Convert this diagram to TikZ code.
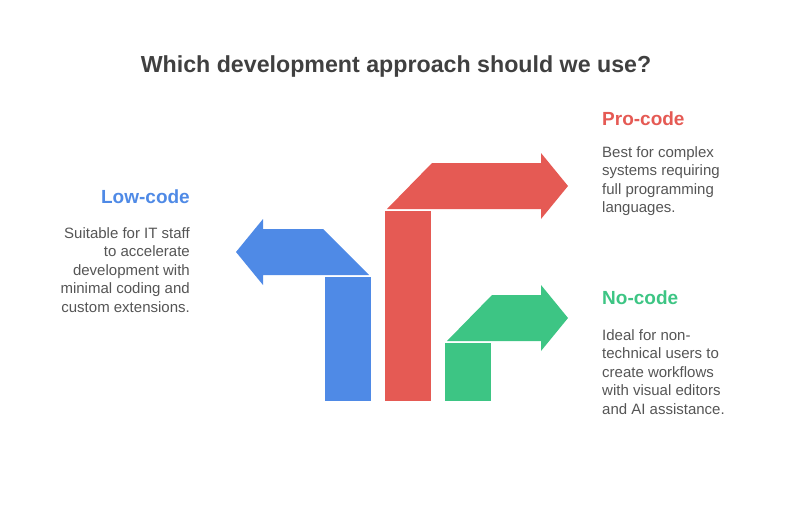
\documentclass[tikz,border=0pt]{standalone}
\usepackage{fontspec}
\setmainfont{Liberation Sans}
\usetikzlibrary{positioning}
\definecolor{lowblue}{HTML}{4F8AE6}
\definecolor{prored}{HTML}{E55A54}
\definecolor{nogreen}{HTML}{3DC584}
\definecolor{titlegray}{HTML}{404040}
\definecolor{textgray}{HTML}{555555}

\begin{document}
\begin{tikzpicture}[x=1pt,y=-1pt,
  title/.style={font=\bfseries\fontsize{23.2}{27}\selectfont,text=titlegray,inner sep=0pt},
  heading/.style={font=\bfseries\fontsize{19}{22}\selectfont,inner sep=0pt},
  desc/.style={font=\fontsize{15}{18.5}\selectfont,text=textgray,inner sep=0pt},
]
  \useasboundingbox (0,0) rectangle (792,511);
  \node[title] (question) at (396,67) {Which development approach should we use?};

  % low-code: bar and arrow to the left
  \fill[lowblue] (325,277) rectangle (371,401);
  \fill[lowblue] (369,275) -- (323,229) -- (263,229) -- (263,219) -- (236,252)
    -- (263,285) -- (263,275) -- cycle;

  % pro-code: tall bar and arrow to the right
  \fill[prored] (385,211) rectangle (431,401);
  \fill[prored] (387,209) -- (432,163) -- (541,163) -- (541,153) -- (568,186)
    -- (541,219) -- (541,209) -- cycle;

  % no-code: short bar and arrow to the right
  \fill[nogreen] (445,343) rectangle (491,401);
  \fill[nogreen] (447,341) -- (492,295) -- (541,295) -- (541,285) -- (568,318)
    -- (541,351) -- (541,341) -- cycle;

  % labels
  \node[heading,text=lowblue,anchor=north east] (lowhead) at (190,190) {Low-code};
  \node[desc,align=right,anchor=north east] (lowdesc) at (190,227)
    {Suitable for IT staff\\to accelerate\\development with\\minimal coding and\\custom extensions.};

  \node[heading,text=prored,anchor=north west] (prohead) at (602,112) {Pro-code};
  \node[desc,align=left,anchor=north west] (prodesc) at (602,146)
    {Best for complex\\systems requiring\\full programming\\languages.};

  \node[heading,text=nogreen,anchor=north west] (nohead) at (602,291) {No-code};
  \node[desc,align=left,anchor=north west] (nodesc) at (602,329)
    {Ideal for non-\\technical users to\\create workflows\\with visual editors\\and AI assistance.};
\end{tikzpicture}
\end{document}
